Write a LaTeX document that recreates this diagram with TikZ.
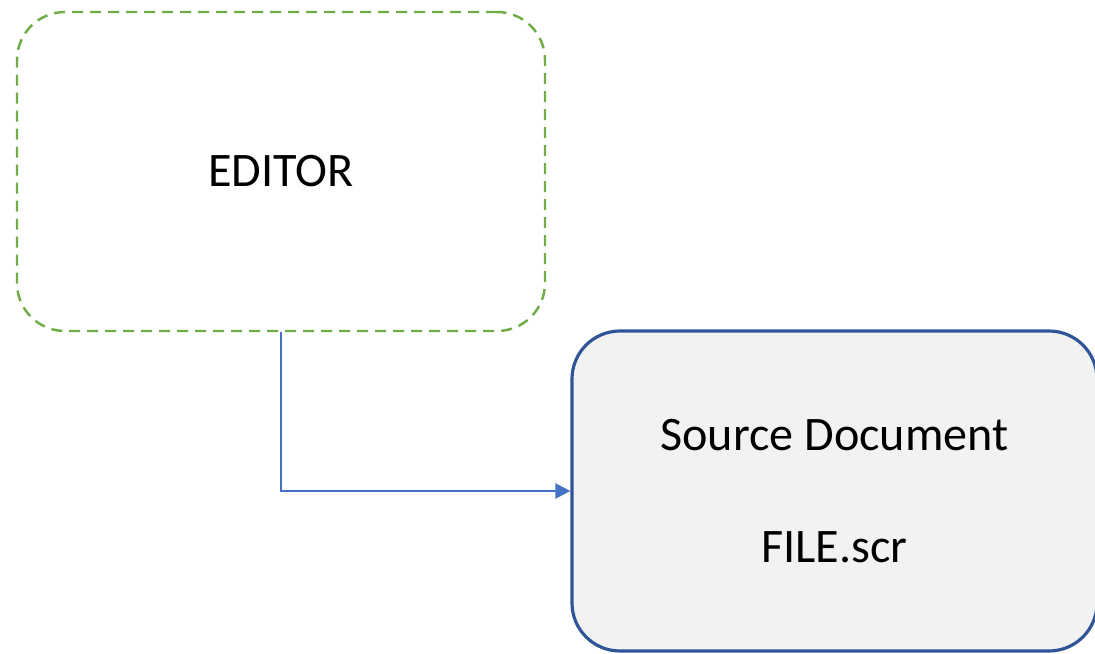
\documentclass[tikz,border=0pt]{standalone}
\usepackage{fontspec}
\setmainfont{Carlito}
\usetikzlibrary{arrows.meta}
\definecolor{editgreen}{HTML}{70AD47}
\definecolor{docblue}{HTML}{2F5597}
\definecolor{linkblue}{HTML}{4472C4}
\definecolor{docgray}{HTML}{F2F2F2}
\begin{document}
\begin{tikzpicture}
                \useasboundingbox (0,0) rectangle (21.9,-13.08);
                \tikzstyle{every node}=[rectangle, rounded corners=0.96cm, inner sep=0pt, font=\fontsize{27.4}{33}\selectfont, text=black, align=center]
                \tikzstyle{editbox}=[draw=editgreen, line width=1.4pt, dash pattern=on 0.22cm off 0.14cm, minimum width=10.56cm, minimum height=6.38cm]
                \tikzstyle{docbox}=[draw=docblue, fill=docgray, line width=1.8pt, minimum width=10.5cm, minimum height=6.4cm]
                \tikzstyle{link}=[linkblue, line width=1.3pt, -{Triangle[length=0.3cm, width=0.3cm]}]

                \node[editbox] (editor) at (5.62,-3.43) {EDITOR};
                \node[docbox] (source) at (16.69,-9.82) {Source Document\\[31pt]FILE.scr};

                \draw[link] (editor.south) |- (source.west);
            \end{tikzpicture}
\end{document}
